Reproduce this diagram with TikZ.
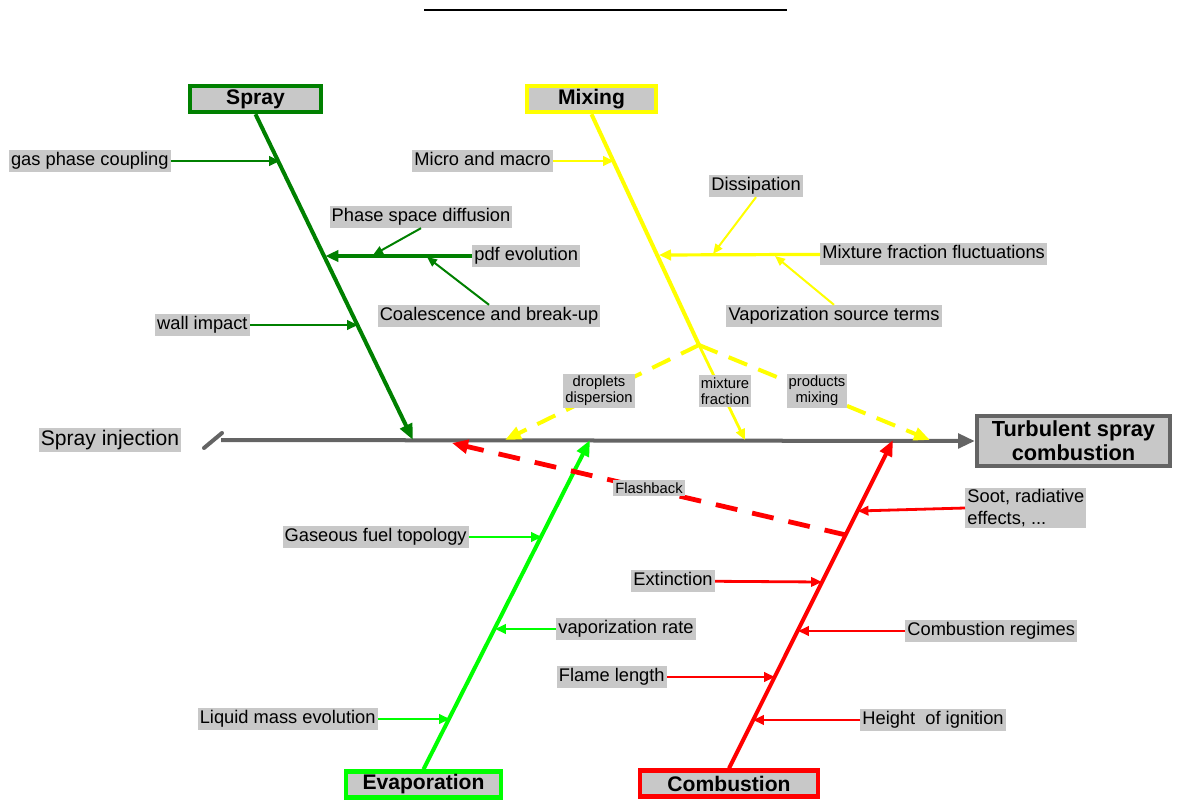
\documentclass[tikz,border=0pt]{standalone}
\usepackage{fontspec}
\setmainfont{Liberation Sans}
\usetikzlibrary{arrows.meta}
\definecolor{boxgray}{RGB}{200,200,200}
\definecolor{spraygreen}{RGB}{0,128,0}
\definecolor{evapgreen}{RGB}{0,255,0}
\definecolor{mixyellow}{RGB}{255,255,0}
\definecolor{combred}{RGB}{255,0,0}
\definecolor{spinegray}{RGB}{100,100,100}

\begin{document}
\begin{tikzpicture}[x=0.025cm, y=-0.025cm,
    lbl/.style={fill=boxgray, inner sep=1.5pt, text height=9.5pt, text depth=3pt,
      font=\fontsize{13}{15}\selectfont},
    small/.style={fill=boxgray, inner sep=1.5pt, align=center,
      font=\fontsize{10.5}{11.5}\selectfont},
    cat/.style={fill=boxgray, line width=1.1mm, minimum height=0.65cm, inner sep=0pt,
      font=\bfseries\fontsize{15}{17}\selectfont},
    bone/.style={line width=1mm, -{Triangle[length=4mm,width=3.2mm]}},
    rib/.style={line width=.7mm, -{Triangle[length=2.7mm,width=2.3mm]}},
    twig/.style={line width=.5mm, -{Triangle[length=2.5mm,width=2.1mm]}},
    dashbone/.style={line width=1mm, dash pattern=on 5mm off 3mm, -{Triangle[length=4mm,width=3.2mm]}}]
    \useasboundingbox (0,0) rectangle (1177,802);
    \draw[line width = .4mm] (424,10) -- (787,10);

    % categories
    \node[cat, draw=spraygreen, minimum width=3.28cm] (spray) at (255.5,99) {Spray};
    \node[cat, draw=mixyellow, minimum width=3.23cm] (mixing) at (591.5,99) {Mixing};
    \node[cat, draw=evapgreen, minimum width=3.88cm] (evap) at (423.5,784.5) {Evaporation};
    \node[cat, draw=combred, minimum width=4.45cm] (comb) at (729,783.5) {Combustion};
    \node[cat, draw=spinegray, minimum width=4.82cm, minimum height=1.25cm, align=center,
      font=\bfseries\fontsize{15.5}{17}\selectfont] (goal) at (1073.5,441) {Turbulent spray\\combustion};
    \node[lbl, font=\fontsize{15}{17}\selectfont, text height=11pt, text depth=3.5pt] (inj) at (110,440) {Spray injection};

    % points on the bones
    \coordinate (spine) at (221,440);
    \coordinate (sprayEnd) at (413,440);
    \coordinate (sprayA) at (280,161);
    \coordinate (sprayB) at (325.5,256);
    \coordinate (sprayC) at (358,325);
    \coordinate (pdfA) at (373,255);
    \coordinate (pdfB) at (427,257);
    \coordinate (mixSplit) at (699,345);
    \coordinate (mixA) at (614,161);
    \coordinate (mixB) at (659,255);
    \coordinate (fluctA) at (713,254);
    \coordinate (fluctB) at (775,256);
    \coordinate (dropEnd) at (505,440);
    \coordinate (fracEnd) at (745,440);
    \coordinate (prodEnd) at (930,440);
    \coordinate (evapEnd) at (590,440);
    \coordinate (evapA) at (542,537);
    \coordinate (evapB) at (495,629);
    \coordinate (evapC) at (450,719);
    \coordinate (combEnd) at (893,440);
    \coordinate (combA) at (857.6,511);
    \coordinate (flash) at (846,535);
    \coordinate (flashEnd) at (452,443);
    \coordinate (combB) at (822,582);
    \coordinate (combC) at (798,631);
    \coordinate (combD) at (775,677);
    \coordinate (combE) at (753,720);

    % spine and bones
    \draw[spinegray, line width=1mm, -{Triangle[length=4.2mm,width=3.6mm]}] (spine) -- (goal.west);
    \draw[spinegray, line width=1mm, line cap=round] (204,448) -- (222,433);
    \draw[spraygreen, bone] (spray.south) -- (sprayEnd);
    \draw[mixyellow, line width=1mm] (mixing.south) -- (mixSplit);
    \draw[mixyellow, rib] (mixSplit) -- (fracEnd);
    \draw[mixyellow, dashbone] (mixSplit) -- (dropEnd);
    \draw[mixyellow, dashbone] (mixSplit) -- (prodEnd);
    \draw[evapgreen, bone] (evap.north) -- (evapEnd);
    \draw[combred, bone] (comb.north) -- (combEnd);
    \draw[combred, line width=1.2mm, dash pattern=on 5.5mm off 3.8mm,
      -{Triangle[length=4mm,width=3.4mm]}] (flash) -- (flashEnd);

    % causes
    \node[lbl, anchor=east] (gas) at (171,161) {gas phase coupling};
    \node[lbl, anchor=east] (wall) at (250,325) {wall impact};
    \node[lbl, anchor=west] (pdf) at (472,256) {pdf evolution};
    \node[lbl] (phase) at (421,217) {Phase space diffusion};
    \node[lbl] (coal) at (489,316) {Coalescence and break-up};
    \node[lbl, anchor=east] (micro) at (553,161) {Micro and macro};
    \node[lbl, anchor=west] (fluct) at (820,254) {Mixture fraction fluctuations};
    \node[lbl] (dissip) at (756,186) {Dissipation};
    \node[lbl] (vapsrc) at (834,316) {Vaporization source terms};
    \node[small] (drop) at (599,391) {droplets\\dispersion};
    \node[small] (frac) at (725,391) {mixture\\fraction};
    \node[small] (prod) at (817,391) {products\\mixing};
    \node[small] (flashlbl) at (649,488) {Flashback};
    \node[lbl, anchor=east] (gasfuel) at (469,537) {Gaseous fuel topology};
    \node[lbl, anchor=west] (vaprate) at (556,629) {vaporization rate};
    \node[lbl, anchor=east] (liquid) at (378,719) {Liquid mass evolution};
    \node[fill=boxgray, inner sep=1.5pt, anchor=west, align=left,
      font=\fontsize{13}{15}\selectfont] (soot) at (965,508) {Soot, radiative\\effects, ...};
    \node[lbl, anchor=east] (ext) at (715,581) {Extinction};
    \node[lbl, anchor=west] (regime) at (905,631) {Combustion regimes};
    \node[lbl, anchor=east] (flame) at (667,677) {Flame length};
    \node[lbl, anchor=west] (height) at (860,720) {Height~~of ignition};

    % arrows of the causes
    \draw[spraygreen, rib] (gas) -- (sprayA);
    \draw[spraygreen, rib] (wall) -- (sprayC);
    \draw[spraygreen, line width=1mm, -{Triangle[length=3.2mm,width=2.8mm]}] (pdf) -- (sprayB);
    \draw[spraygreen, twig] (phase.south) -- (pdfA);
    \draw[spraygreen, twig] (coal.north) -- (pdfB);
    \draw[mixyellow, rib] (micro) -- (mixA);
    \draw[mixyellow, line width=.8mm, -{Triangle[length=3mm,width=2.6mm]}] (fluct) -- (mixB);
    \draw[mixyellow, twig] (dissip.south) -- (fluctA);
    \draw[mixyellow, twig] (vapsrc.north) -- (fluctB);
    \draw[evapgreen, rib] (gasfuel) -- (evapA);
    \draw[evapgreen, rib] (vaprate) -- (evapB);
    \draw[evapgreen, rib] (liquid) -- (evapC);
    \draw[combred, rib] (soot.west) -- (combA);
    \draw[combred, rib] (ext) -- (combB);
    \draw[combred, rib] (regime) -- (combC);
    \draw[combred, rib] (flame) -- (combD);
    \draw[combred, rib] (height) -- (combE);
\end{tikzpicture}
\end{document}
